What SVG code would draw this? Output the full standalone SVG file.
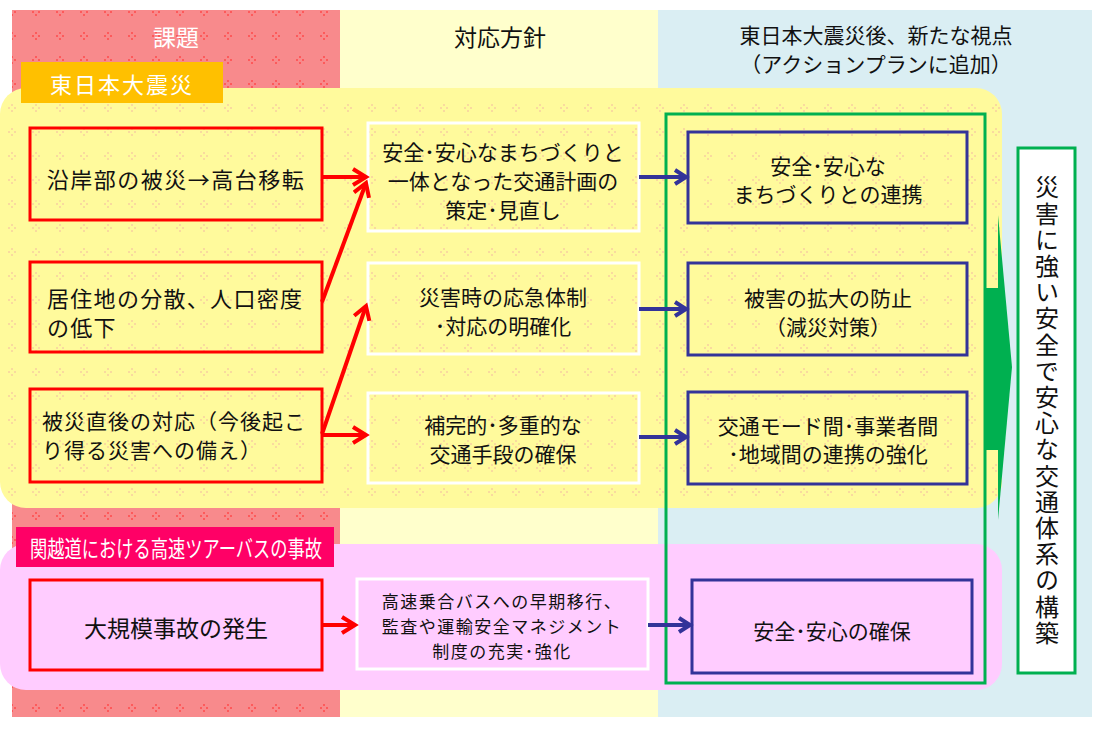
<svg xmlns="http://www.w3.org/2000/svg" width="1100" height="738" viewBox="0 0 1100 738">
<defs>
<style>
text{font-family:"Noto Sans CJK JP","Noto Sans CJK SC",sans-serif;fill:#111;text-anchor:middle;dominant-baseline:central}
.w{fill:#fff}
.rb{fill:none;stroke:#FF0000;stroke-width:3}
.wb{stroke:#fff;stroke-width:3}
.bb{fill:none;stroke:#333399;stroke-width:3}
.ra{fill:none;stroke:#FF0000;stroke-width:4;marker-end:url(#ar)}
.ba{fill:none;stroke:#333399;stroke-width:4;marker-end:url(#ab)}
.t21{font-size:21px}
.t17{font-size:17px;letter-spacing:1.5px}
</style>
<pattern id="redp" width="24" height="24" patternUnits="userSpaceOnUse">
<rect width="24" height="24" fill="#F88A8C"/>
<circle cx="12" cy="9" r="1" fill="#FF4A4A"/><circle cx="12" cy="15" r="1" fill="#FF4A4A"/>
<circle cx="9" cy="12" r="1" fill="#FF4A4A"/><circle cx="15" cy="12" r="1" fill="#FF4A4A"/>
</pattern>
<pattern id="yelp" width="24" height="24" patternUnits="userSpaceOnUse">
<rect width="24" height="24" fill="#FFFA9C"/>
<circle cx="12" cy="9" r="1" fill="#F8D0A0"/><circle cx="12" cy="15" r="1" fill="#F8D0A0"/>
<circle cx="9" cy="12" r="1" fill="#F8D0A0"/><circle cx="15" cy="12" r="1" fill="#F8D0A0"/>
</pattern>
<marker id="ar" markerUnits="userSpaceOnUse" markerWidth="22" markerHeight="22" refX="16" refY="10" orient="auto">
<path d="M3,2 L16,10 L3,18" fill="none" stroke="#FF0000" stroke-width="4"/>
</marker>
<marker id="ab" markerUnits="userSpaceOnUse" markerWidth="22" markerHeight="22" refX="14" refY="10" orient="auto">
<path d="M3,3 L14,10 L3,17" fill="none" stroke="#333399" stroke-width="4"/>
</marker>
</defs>

<g id="columns">
<rect x="12" y="10" width="328" height="707" fill="url(#redp)"/>
<rect x="340" y="10" width="318" height="707" fill="#FFFFCC"/>
<rect x="658" y="10" width="434" height="707" fill="#DAEEF3"/>
<text x="176" y="36" class="w" style="font-size:23px">課題</text>
<text x="500" y="36" style="font-size:23px">対応方針</text>
<text x="876" y="34" class="t21">東日本大震災後、新たな視点</text>
<text x="876" y="63" class="t21">（アクションプランに追加）</text>
</g>

<g id="panels">
<rect x="0" y="88" width="1002" height="420" rx="26" fill="url(#yelp)"/>
<rect x="0" y="544" width="1002" height="146" rx="26" fill="#FFCCFF"/>
</g>

<g id="tag-quake">
<rect x="21" y="62" width="202" height="41" fill="#FFC000"/>
<text x="122" y="83" class="w" style="font-size:22px;letter-spacing:2px">東日本大震災</text>
</g>
<g id="tag-bus">
<rect x="16" y="527" width="318" height="40" fill="#FF0066"/>
<text x="176" y="547" class="w" style="font-size:23px" textLength="292" lengthAdjust="spacingAndGlyphs">関越道における高速ツアーバスの事故</text>
</g>

<g id="green-arrow">
<rect x="985" y="288" width="14" height="162" fill="#00B050"/>
<polygon points="998,215 1012,367 998,520" fill="#00B050"/>
</g>

<g id="issue1">
<rect x="30" y="128" width="292" height="92" class="rb"/>
<text x="176" y="178" style="font-size:22px;letter-spacing:1.5px">沿岸部の被災→高台移転</text>
</g>
<g id="issue2">
<rect x="30" y="262" width="292" height="90" class="rb"/>
<text x="47" y="297" style="font-size:22px;letter-spacing:1.3px;text-anchor:start">居住地の分散、人口密度</text>
<text x="47" y="326" style="font-size:22px;letter-spacing:1.3px;text-anchor:start">の低下</text>
</g>
<g id="issue3">
<rect x="30" y="389" width="292" height="93" class="rb"/>
<text x="42" y="420" style="font-size:21px;letter-spacing:1px;text-anchor:start">被災直後の対応（今後起こ</text>
<text x="42" y="449" style="font-size:21px;letter-spacing:1px;text-anchor:start">り得る災害への備え）</text>
</g>
<g id="issue4">
<rect x="30" y="580" width="292" height="90" class="rb"/>
<text x="176" y="627" style="font-size:23px">大規模事故の発生</text>
</g>

<g id="policy1">
<rect x="368" y="123" width="271" height="108" fill="none" class="wb"/>
<text x="503" y="151" class="t21">安全･安心なまちづくりと</text>
<text x="503" y="180" class="t21">一体となった交通計画の</text>
<text x="503" y="209" class="t21">策定･見直し</text>
</g>
<g id="policy2">
<rect x="368" y="263" width="271" height="91" fill="none" class="wb"/>
<text x="503" y="296" class="t21">災害時の応急体制</text>
<text x="503" y="325" class="t21">･対応の明確化</text>
</g>
<g id="policy3">
<rect x="368" y="393" width="271" height="90" fill="none" class="wb"/>
<text x="503" y="424" class="t21">補完的･多重的な</text>
<text x="503" y="453" class="t21">交通手段の確保</text>
</g>
<g id="policy4">
<rect x="357" y="579" width="291" height="90" fill="none" class="wb"/>
<text x="502" y="600" class="t17">高速乗合バスへの早期移行、</text>
<text x="502" y="625" class="t17">監査や運輸安全マネジメント</text>
<text x="502" y="650" class="t17">制度の充実･強化</text>
</g>

<g id="new1">
<rect x="688" y="132" width="279" height="91" class="bb"/>
<text x="828" y="165" class="t21">安全･安心な</text>
<text x="828" y="193" class="t21">まちづくりとの連携</text>
</g>
<g id="new2">
<rect x="688" y="263" width="279" height="92" class="bb"/>
<text x="828" y="297" class="t21">被害の拡大の防止</text>
<text x="828" y="326" class="t21">（減災対策）</text>
</g>
<g id="new3">
<rect x="688" y="392" width="279" height="92" class="bb"/>
<text x="828" y="425" class="t21">交通モード間･事業者間</text>
<text x="828" y="453" class="t21">･地域間の連携の強化</text>
</g>
<g id="new4">
<rect x="692" y="580" width="280" height="93" class="bb"/>
<text x="832" y="630" class="t21">安全･安心の確保</text>
</g>

<g id="green-frame">
<rect x="666" y="114" width="319" height="569" fill="none" stroke="#00B050" stroke-width="3"/>
</g>

<g id="goal">
<rect x="1018" y="148" width="57" height="525" fill="#fff" stroke="#00B050" stroke-width="3"/>
<text x="1047" y="411" style="font-size:24px;letter-spacing:2.2px;writing-mode:vertical-rl;text-anchor:middle">災害に強い安全で安心な交通体系の構築</text>
</g>

<g id="connectors">
<line x1="322" y1="177" x2="366" y2="177" class="ra"/>
<line x1="322" y1="302" x2="366" y2="183" class="ra"/>
<line x1="322" y1="434" x2="366" y2="306" class="ra"/>
<line x1="322" y1="435" x2="366" y2="435" class="ra"/>
<line x1="322" y1="625" x2="355" y2="625" class="ra"/>
<line x1="639" y1="177" x2="686" y2="177" class="ba"/>
<line x1="639" y1="309" x2="686" y2="309" class="ba"/>
<line x1="639" y1="437" x2="686" y2="437" class="ba"/>
<line x1="648" y1="625" x2="690" y2="625" class="ba"/>
</g>
</svg>
